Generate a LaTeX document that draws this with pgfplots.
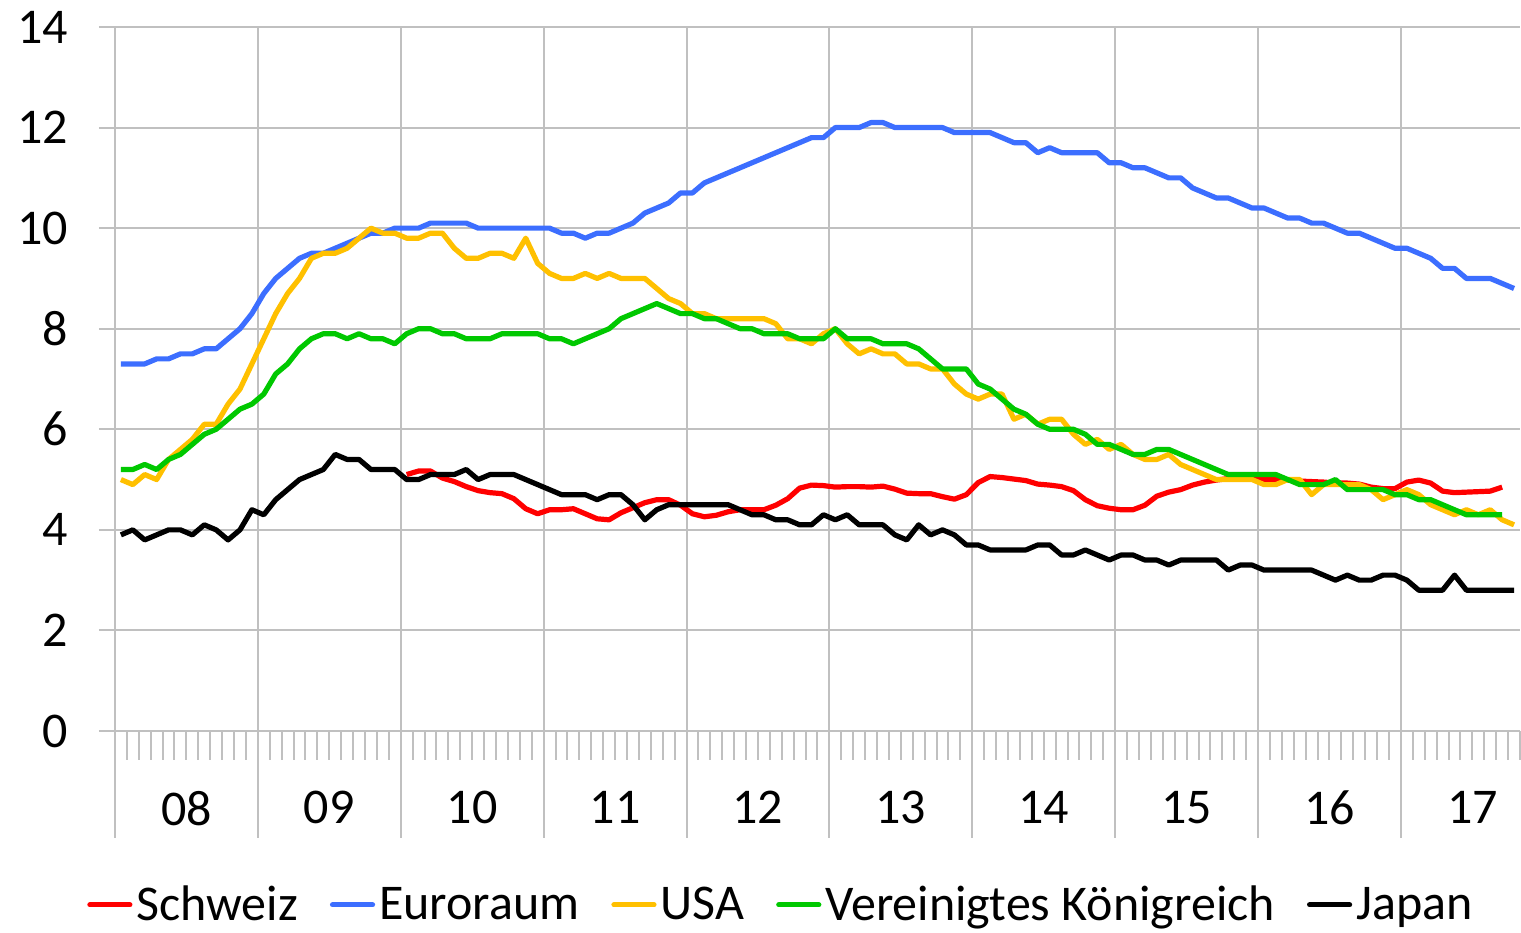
\documentclass[border=0pt]{standalone}
\usepackage{fontspec}
\setmainfont{Carlito}
\usepackage{pgfplots}
\usepackage{pgfplotstable}
\pgfplotsset{compat=1.18}
\definecolor{gridgray}{RGB}{192,192,192}
\definecolor{cred}{RGB}{255,0,0}
\definecolor{cblue}{RGB}{60,110,255}
\definecolor{cyellow}{RGB}{255,192,0}
\definecolor{cgreen}{RGB}{0,200,0}
\newcommand{\bigfont}{\fontsize{25}{30}\selectfont}

% Schweiz: Jan 2010 (index 24) to Sep 2017
\pgfplotstableread[row sep=\\]{v\\
5.10\\5.17\\5.17\\5.03\\4.96\\4.86\\4.78\\4.74\\4.72\\4.62\\4.42\\4.32\\
4.40\\4.40\\4.42\\4.32\\4.22\\4.20\\4.34\\4.44\\4.54\\4.60\\4.60\\4.49\\
4.32\\4.26\\4.29\\4.36\\4.40\\4.40\\4.40\\4.49\\4.62\\4.83\\4.89\\4.88\\
4.85\\4.86\\4.86\\4.85\\4.87\\4.81\\4.73\\4.72\\4.72\\4.66\\4.61\\4.70\\
4.94\\5.06\\5.04\\5.01\\4.98\\4.91\\4.89\\4.86\\4.78\\4.60\\4.48\\4.43\\
4.40\\4.40\\4.49\\4.67\\4.75\\4.80\\4.89\\4.95\\4.99\\5.02\\5.02\\5.02\\
5.00\\5.00\\4.99\\4.97\\4.96\\4.95\\4.93\\4.93\\4.91\\4.85\\4.82\\4.82\\
4.95\\4.99\\4.93\\4.77\\4.74\\4.75\\4.76\\4.77\\4.85\\
}\tabCH

% Euroraum: Jan 2008 to Oct 2017
\pgfplotstableread[row sep=\\]{v\\
7.3\\7.3\\7.3\\7.4\\7.4\\7.5\\7.5\\7.6\\7.6\\7.8\\8.0\\8.3\\
8.7\\9.0\\9.2\\9.4\\9.5\\9.5\\9.6\\9.7\\9.8\\9.9\\9.9\\10.0\\
10.0\\10.0\\10.1\\10.1\\10.1\\10.1\\10.0\\10.0\\10.0\\10.0\\10.0\\10.0\\
10.0\\9.9\\9.9\\9.8\\9.9\\9.9\\10.0\\10.1\\10.3\\10.4\\10.5\\10.7\\
10.7\\10.9\\11.0\\11.1\\11.2\\11.3\\11.4\\11.5\\11.6\\11.7\\11.8\\11.8\\
12.0\\12.0\\12.0\\12.1\\12.1\\12.0\\12.0\\12.0\\12.0\\12.0\\11.9\\11.9\\
11.9\\11.9\\11.8\\11.7\\11.7\\11.5\\11.6\\11.5\\11.5\\11.5\\11.5\\11.3\\
11.3\\11.2\\11.2\\11.1\\11.0\\11.0\\10.8\\10.7\\10.6\\10.6\\10.5\\10.4\\
10.4\\10.3\\10.2\\10.2\\10.1\\10.1\\10.0\\9.9\\9.9\\9.8\\9.7\\9.6\\
9.6\\9.5\\9.4\\9.2\\9.2\\9.0\\9.0\\9.0\\8.9\\8.8\\
}\tabEU

% USA: Jan 2008 to Oct 2017
\pgfplotstableread[row sep=\\]{v\\
5.0\\4.9\\5.1\\5.0\\5.4\\5.6\\5.8\\6.1\\6.1\\6.5\\6.8\\7.3\\
7.8\\8.3\\8.7\\9.0\\9.4\\9.5\\9.5\\9.6\\9.8\\10.0\\9.9\\9.9\\
9.8\\9.8\\9.9\\9.9\\9.6\\9.4\\9.4\\9.5\\9.5\\9.4\\9.8\\9.3\\
9.1\\9.0\\9.0\\9.1\\9.0\\9.1\\9.0\\9.0\\9.0\\8.8\\8.6\\8.5\\
8.3\\8.3\\8.2\\8.2\\8.2\\8.2\\8.2\\8.1\\7.8\\7.8\\7.7\\7.9\\
8.0\\7.7\\7.5\\7.6\\7.5\\7.5\\7.3\\7.3\\7.2\\7.2\\6.9\\6.7\\
6.6\\6.7\\6.7\\6.2\\6.3\\6.1\\6.2\\6.2\\5.9\\5.7\\5.8\\5.6\\
5.7\\5.5\\5.4\\5.4\\5.5\\5.3\\5.2\\5.1\\5.0\\5.0\\5.0\\5.0\\
4.9\\4.9\\5.0\\5.0\\4.7\\4.9\\4.9\\4.9\\4.9\\4.8\\4.6\\4.7\\
4.8\\4.7\\4.5\\4.4\\4.3\\4.4\\4.3\\4.4\\4.2\\4.1\\
}\tabUS

% Vereinigtes Koenigreich: Jan 2008 to Sep 2017
\pgfplotstableread[row sep=\\]{v\\
5.2\\5.2\\5.3\\5.2\\5.4\\5.5\\5.7\\5.9\\6.0\\6.2\\6.4\\6.5\\
6.7\\7.1\\7.3\\7.6\\7.8\\7.9\\7.9\\7.8\\7.9\\7.8\\7.8\\7.7\\
7.9\\8.0\\8.0\\7.9\\7.9\\7.8\\7.8\\7.8\\7.9\\7.9\\7.9\\7.9\\
7.8\\7.8\\7.7\\7.8\\7.9\\8.0\\8.2\\8.3\\8.4\\8.5\\8.4\\8.3\\
8.3\\8.2\\8.2\\8.1\\8.0\\8.0\\7.9\\7.9\\7.9\\7.8\\7.8\\7.8\\
8.0\\7.8\\7.8\\7.8\\7.7\\7.7\\7.7\\7.6\\7.4\\7.2\\7.2\\7.2\\
6.9\\6.8\\6.6\\6.4\\6.3\\6.1\\6.0\\6.0\\6.0\\5.9\\5.7\\5.7\\
5.6\\5.5\\5.5\\5.6\\5.6\\5.5\\5.4\\5.3\\5.2\\5.1\\5.1\\5.1\\
5.1\\5.1\\5.0\\4.9\\4.9\\4.9\\5.0\\4.8\\4.8\\4.8\\4.8\\4.7\\
4.7\\4.6\\4.6\\4.5\\4.4\\4.3\\4.3\\4.3\\4.3\\
}\tabUK

% Japan: Jan 2008 to Oct 2017
\pgfplotstableread[row sep=\\]{v\\
3.9\\4.0\\3.8\\3.9\\4.0\\4.0\\3.9\\4.1\\4.0\\3.8\\4.0\\4.4\\
4.3\\4.6\\4.8\\5.0\\5.1\\5.2\\5.5\\5.4\\5.4\\5.2\\5.2\\5.2\\
5.0\\5.0\\5.1\\5.1\\5.1\\5.2\\5.0\\5.1\\5.1\\5.1\\5.0\\4.9\\
4.8\\4.7\\4.7\\4.7\\4.6\\4.7\\4.7\\4.5\\4.2\\4.4\\4.5\\4.5\\
4.5\\4.5\\4.5\\4.5\\4.4\\4.3\\4.3\\4.2\\4.2\\4.1\\4.1\\4.3\\
4.2\\4.3\\4.1\\4.1\\4.1\\3.9\\3.8\\4.1\\3.9\\4.0\\3.9\\3.7\\
3.7\\3.6\\3.6\\3.6\\3.6\\3.7\\3.7\\3.5\\3.5\\3.6\\3.5\\3.4\\
3.5\\3.5\\3.4\\3.4\\3.3\\3.4\\3.4\\3.4\\3.4\\3.2\\3.3\\3.3\\
3.2\\3.2\\3.2\\3.2\\3.2\\3.1\\3.0\\3.1\\3.0\\3.0\\3.1\\3.1\\
3.0\\2.8\\2.8\\2.8\\3.1\\2.8\\2.8\\2.8\\2.8\\2.8\\
}\tabJP

\begin{document}
\begin{tikzpicture}
\path[use as bounding box] (-49.5pt,-100.5pt) rectangle (711pt,365.5pt);
\begin{axis}[
  at={(0pt,0pt)}, anchor=south west,
  scale only axis, width=710.5pt, height=352pt,
  xmin=-1.84, xmax=117.5, ymin=0, ymax=14,
  clip=false,
  axis line style={draw=none},
  ytick={0,2,...,14},
  ymajorgrids,
  xtick={5.5,17.5,...,113.5},
  xticklabels={08,09,10,11,12,13,14,15,16,17},
  extra x ticks={-0.5,11.5,...,107.5},
  extra x tick labels={},
  extra x tick style={grid=major},
  major tick length=0pt,
  tick style={draw=none},
  major grid style={draw=gridgray, line width=1pt},
  /pgf/number format/assume math mode=true,
  tick label style={font=\bigfont, text=black},
  yticklabel style={xshift=-12pt},
  xticklabel style={yshift=-26.5pt},
  legend columns=5,
  legend image code/.code={\draw[#1, line cap=round] (0pt,0pt) -- (20pt,0pt);},
  legend style={draw=none, fill=none, font=\bigfont,
    at={(axis description cs:0.4806,-0.247)}, anchor=center,
    nodes={inner xsep=2pt, inner ysep=0pt},
    /tikz/every even column/.append style={column sep=14pt}},
  every axis plot/.append style={line width=2.6pt, line join=round},
]
\pgfplotsinvokeforeach{0,...,9}{
  \draw[gridgray, line width=1pt] (axis cs:{12*#1-0.5},0) -- ++(0pt,-53.5pt);
}
\pgfplotsinvokeforeach{0,...,118}{
  \draw[gridgray, line width=1pt] (axis cs:{#1-0.5},0) -- ++(0pt,-14.5pt);
}
\addplot[cred, no marks] table[x expr=\coordindex+24, y=v] {\tabCH};
\addlegendentry{Schweiz}
\addplot[cblue, no marks] table[x expr=\coordindex, y=v] {\tabEU};
\addlegendentry{Euroraum}
\addplot[cyellow, no marks] table[x expr=\coordindex, y=v] {\tabUS};
\addlegendentry{USA}
\addplot[cgreen, no marks] table[x expr=\coordindex, y=v] {\tabUK};
\addlegendentry{Vereinigtes Königreich}
\addplot[black, no marks] table[x expr=\coordindex, y=v] {\tabJP};
\addlegendentry{Japan}
\end{axis}
\end{tikzpicture}
\end{document}
